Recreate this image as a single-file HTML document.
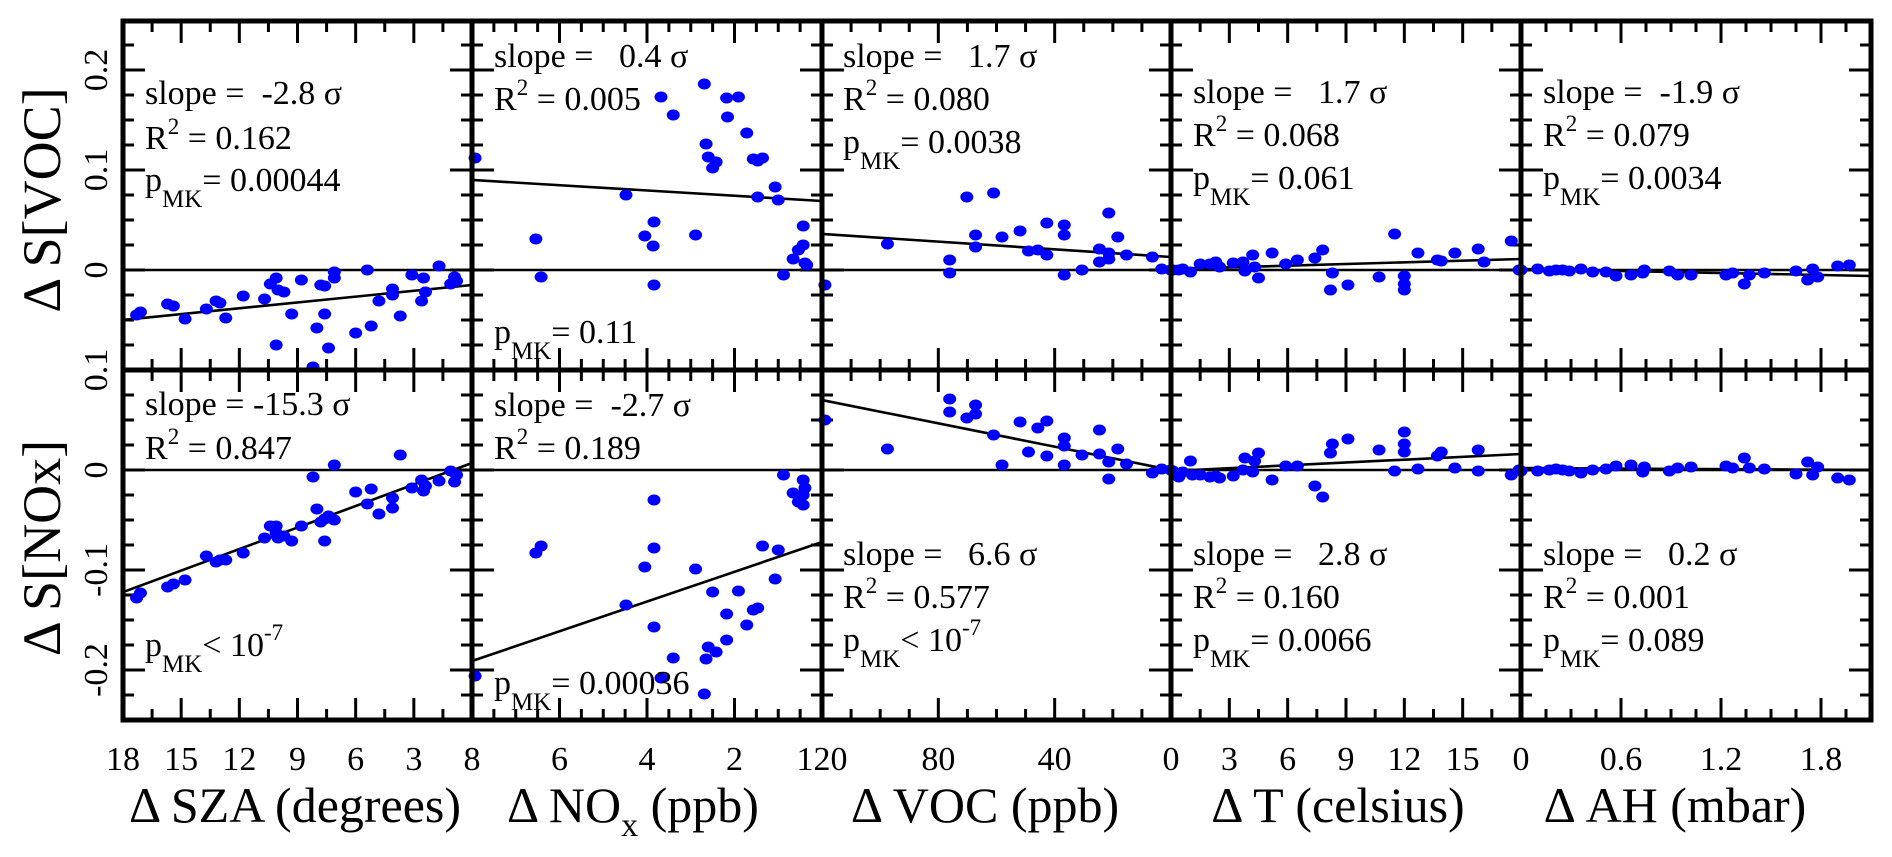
<!DOCTYPE html>
<html><head><meta charset="utf-8"><title>Sensitivity scatter panels</title>
<style>
html,body{margin:0;padding:0;background:#fff;}
body{position:relative;width:1892px;height:857px;overflow:hidden;}
svg{display:block;font-family:"Liberation Serif","DejaVu Serif",serif;}
svg text{font-family:"Liberation Serif","DejaVu Serif",serif;white-space:pre;}
</style></head>
<body>
<svg id="chart" width="1892" height="857" viewBox="0 0 1892 857" xmlns="http://www.w3.org/2000/svg"></svg>
<script>
// ---------- data ----------
const szaX = [17.3,17.1,15.7,15.4,14.8,13.7,13.2,13.0,12.7,11.8,10.7,10.4,10.1,10.0,9.7,9.3,10.1,8.8,7.8,7.6,7.6,8.0,7.4,8.2,7.1,7.1,6.0,5.4,5.2,4.8,4.1,4.1,3.7,3.1,2.6,2.5,2.4,1.7,1.1,0.9,0.8];
const szaVocY = [-0.045,-0.042,-0.034,-0.036,-0.049,-0.039,-0.031,-0.033,-0.048,-0.026,-0.029,-0.014,-0.008,-0.020,-0.022,-0.044,-0.075,-0.010,-0.015,-0.016,-0.044,-0.058,-0.078,-0.097,-0.002,-0.008,-0.063,0,-0.056,-0.031,-0.019,-0.025,-0.046,-0.005,-0.031,-0.008,-0.022,0.004,-0.014,-0.007,-0.011];
const szaNoxY = [-0.128,-0.123,-0.117,-0.114,-0.110,-0.086,-0.092,-0.090,-0.090,-0.083,-0.068,-0.056,-0.056,-0.068,-0.066,-0.071,-0.063,-0.056,-0.052,-0.071,-0.049,-0.039,-0.046,-0.007,0.005,-0.050,-0.022,-0.034,-0.019,-0.044,-0.038,-0.028,0.015,-0.018,-0.010,-0.021,-0.016,-0.011,-0.001,-0.012,-0.005];

const noxTopX = [7.93,6.54,6.42,4.48,4.05,3.84,3.86,3.84,3.68,3.40,2.89,2.69,2.65,2.60,2.50,2.42,2.18,2.16,1.91,1.72,1.57,1.47,1.36,1.47,1.07,1.00,0.88,0.66,0.54,0.43,0.43,0.39,0.35];
const noxTopY = [0.112,0.031,-0.007,0.075,0.034,0.048,0.024,-0.015,0.173,0.155,0.035,0.186,0.126,0.113,0.102,0.108,0.172,0.153,0.173,0.137,0.111,0.109,0.112,0.073,0.083,0.070,-0.005,0.011,0.020,0.044,0.025,0.007,0.005];
const noxBotX = [7.93,6.54,6.42,4.48,4.05,3.84,3.84,3.84,3.68,3.40,2.89,2.69,2.65,2.60,2.42,2.50,2.18,2.18,1.91,1.72,1.57,1.47,1.36,1.07,1.00,0.88,0.66,0.54,0.43,0.43,0.39,0.43];
const noxBotY = [-0.206,-0.083,-0.076,-0.135,-0.097,-0.030,-0.078,-0.157,-0.208,-0.188,-0.099,-0.224,-0.189,-0.177,-0.182,-0.122,-0.170,-0.144,-0.121,-0.155,-0.140,-0.138,-0.076,-0.109,-0.080,-0.005,-0.023,-0.032,-0.010,-0.035,-0.018,-0.025];

const vocTopX = [119,97.5,76.1,76.1,70.2,67.2,67.2,61.0,58.1,51.9,49.0,45.8,42.7,42.7,36.7,36.7,36.7,30.6,24.6,24.6,21.4,21.4,21.4,18.3,15.3,6.4,3.2,0.1];
const vocTopY = [-0.015,0.026,0.010,-0.003,0.073,0.035,0.023,0.077,0.033,0.039,0.019,0.020,0.047,0.015,0.045,0.035,-0.005,0.000,0.021,0.008,0.057,0.017,0.011,0.033,0.015,0.013,0.001,0.000];
const vocBotX = [119,97.5,76.1,76.1,70.2,67.2,67.2,61.0,58.1,51.9,49.0,45.8,42.7,42.7,36.7,36.7,36.7,30.6,24.6,24.6,21.4,21.4,18.3,15.3,6.4,3.2,0.1];
const vocBotY = [0.050,0.021,0.071,0.058,0.052,0.065,0.056,0.035,0.005,0.048,0.018,0.042,0.049,0.014,0.032,0.024,0.005,0.015,0.040,0.016,0.008,-0.009,0.021,0.006,-0.003,0.001,0.000];

const tTopX = [0.1,0.4,0.6,1.0,1.5,2.0,2.3,2.5,3.2,3.7,3.8,4.2,4.3,4.5,5.2,5.9,6.5,7.4,7.8,8.2,8.3,9.1,10.7,11.5,12.0,12.0,12.0,12.7,13.7,13.9,14.6,15.8,16.1,17.5,17.9];
const tTopY = [0,0,0.001,-0.002,0.006,0.006,0.008,0.003,0.007,0.008,-0.001,0.015,0.003,-0.008,0.017,0.006,0.010,0.012,0.020,-0.020,-0.003,-0.015,-0.007,0.036,-0.006,-0.014,-0.020,0.017,0.010,0.009,0.017,0.021,0.008,0.029,0];
const tBotX = [0.1,0.4,0.6,1.0,1.1,1.5,2.0,2.3,2.5,3.2,3.7,3.8,4.2,4.3,4.5,5.2,5.9,6.5,7.4,7.8,8.2,8.3,9.1,10.7,11.5,12.0,12.0,12.0,12.7,13.7,13.9,14.6,15.8,15.8,17.5,17.9];
const tBotY = [-0.001,-0.007,-0.002,0.009,-0.005,-0.005,-0.007,-0.006,-0.008,-0.006,0,0.012,-0.002,0.009,0.017,-0.010,0.004,0.004,-0.016,-0.027,0.017,0.026,0.031,0.020,-0.001,0.038,0.026,0.018,0.001,0.014,0.018,0.002,0.020,-0.001,-0.005,0];

const ahX = [0,0.10,0.17,0.21,0.25,0.29,0.36,0.43,0.51,0.57,0.66,0.73,0.74,0.89,0.94,1.02,1.23,1.27,1.34,1.37,1.46,1.65,1.72,1.75,1.78,1.90,1.97];
const ahTopY = [0,0.001,-0.001,0,0,-0.001,0.001,-0.002,-0.002,-0.006,-0.005,-0.003,0,-0.001,-0.005,-0.005,-0.005,-0.003,-0.014,-0.005,-0.003,-0.001,-0.010,0.001,-0.007,0.004,0.005];
const ahBotY = [-0.001,-0.001,0,0.001,0,-0.001,-0.003,0,0.001,0.004,0.005,-0.002,0.003,-0.001,0.002,0.003,0.004,0.002,0.012,0.002,0.001,-0.004,0.008,-0.005,0.003,-0.008,-0.010];

// fit lines: [intercept, slope]
const szaVocFit = [-0.015,-0.00194];
const szaNoxFit = [0.007,-0.00717];
const noxVocFit = [0.069,0.00263];
const noxNoxFit = [-0.072,-0.01488];
const vocVocFit = [0.013,0.000192];
const vocNoxFit = [0.000,0.000583];
const tVocFit = [0.001,0.000556];
const tNoxFit = [-0.001,0.000944];
const ahVocFit = [0.001,-0.00333];
const ahNoxFit = [0.002,-0.00095];

const yTickLabels = ["0.2","0.1","0","0.1","0","-0.1","-0.2"];
const yTickValuesRow = [[0.2,0],[0.1,0],[0,0],[-0.1,0],[0,1],[-0.1,1],[-0.2,1]];

// ---------- layout ----------
const svg = document.getElementById('chart');
const NS = 'http://www.w3.org/2000/svg';
const cols = [
  {name:'sza', px:[123,472], dom:[18,0], major:3, minor:1.5, labels:["18","15","12","9","6","3"], ticks:[18,15,12,9,6,3], xs:[szaX,szaX], ys:[szaVocY,szaNoxY], fits:[szaVocFit,szaNoxFit]},
  {name:'nox', px:[472,822], dom:[8,0], major:2, minor:0.5, labels:["8","6","4","2"], ticks:[8,6,4,2], xs:[noxTopX,noxBotX], ys:[noxTopY,noxBotY], fits:[noxVocFit,noxNoxFit]},
  {name:'voc', px:[822,1171], dom:[120,0], major:40, minor:10, labels:["120","80","40"], ticks:[120,80,40], xs:[vocTopX,vocBotX], ys:[vocTopY,vocBotY], fits:[vocVocFit,vocNoxFit]},
  {name:'temp', px:[1171,1521], dom:[0,18], major:3, minor:1.5, labels:["0","3","6","9","12","15"], ticks:[0,3,6,9,12,15], xs:[tTopX,tBotX], ys:[tTopY,tBotY], fits:[tVocFit,tNoxFit]},
  {name:'ah', px:[1521,1871], dom:[0,2.1], major:0.6, minor:0.15, labels:["0","0.6","1.2","1.8"], ticks:[0,0.6,1.2,1.8], xs:[ahX,ahX], ys:[ahTopY,ahBotY], fits:[ahVocFit,ahNoxFit]}
];
const rows = [{py:[21,370], dom:[0.249,-0.1]},{py:[370,720], dom:[0.1,-0.25]}];

function mk(tag, attrs, parent){ const e=document.createElementNS(NS,tag); for(const k in attrs) e.setAttribute(k,attrs[k]); (parent||svg).appendChild(e); return e; }
function xScale(c,v){ return c.px[0]+(v-c.dom[0])/(c.dom[1]-c.dom[0])*(c.px[1]-c.px[0]); }
function yScale(r,v){ return r.py[0]+(v-r.dom[0])/(r.dom[1]-r.dom[0])*(r.py[1]-r.py[0]); }

cols.forEach((c,ci)=>{
  rows.forEach((r,ri)=>{
    const g = mk('g',{});
    
    
    const lo=Math.min(c.dom[0],c.dom[1]), hi=Math.max(c.dom[0],c.dom[1]);
    for(let k=0;;k++){
      const v=lo+k*c.minor; if(v>hi+1e-9) break;
      const isMaj=Math.abs(v/c.major-Math.round(v/c.major))<1e-6;
      const L=isMaj?22:11, x=xScale(c,v);
      mk('line',{x1:x,x2:x,y1:r.py[0],y2:r.py[0]+L,stroke:'#000','stroke-width':3},g);
      mk('line',{x1:x,x2:x,y1:r.py[1],y2:r.py[1]-L,stroke:'#000','stroke-width':3},g);
    }
    for(let k=0;;k++){
      const v=r.dom[1]+k*0.025; if(v>r.dom[0]+1e-9) break;
      const isMaj=Math.abs(v/0.1-Math.round(v/0.1))<1e-6;
      const L=isMaj?22:11, y=yScale(r,v);
      mk('line',{x1:c.px[0],x2:c.px[0]+L,y1:y,y2:y,stroke:'#000','stroke-width':3},g);
      mk('line',{x1:c.px[1],x2:c.px[1]-L,y1:y,y2:y,stroke:'#000','stroke-width':3},g);
    }
    const y0=yScale(r,0);
    const zl=mk('line',{x1:c.px[0],x2:c.px[1],y1:y0,y2:y0,stroke:'#000','stroke-width':2.4},g);
    
    
    const f=c.fits[ri];
    const fl=mk('line',{x1:xScale(c,c.dom[0]),x2:xScale(c,c.dom[1]),y1:yScale(r,f[0]+f[1]*c.dom[0]),y2:yScale(r,f[0]+f[1]*c.dom[1]),stroke:'#000','stroke-width':2.6},g);
    
    
    const xs=c.xs[ri], ys=c.ys[ri];
    for(let i=0;i<ys.length;i++){
      const d=mk('ellipse',{cx:xScale(c,xs[i]),cy:yScale(r,ys[i]),rx:6.5,ry:5.5,fill:'#0000ff'},g);
      
      
    }
  });
  c.ticks.forEach((v,i)=>{
    const t=mk('text',{x:xScale(c,v),y:770,'font-size':34,'text-anchor':'middle'});
    t.textContent=c.labels[i];
    
    
  });
});
rows.forEach(r=>cols.forEach(c=>{
  const fr=mk('rect',{x:c.px[0],y:r.py[0],width:c.px[1]-c.px[0],height:r.py[1]-r.py[0],fill:'none',stroke:'#000','stroke-width':5});
  
  
}));
yTickValuesRow.forEach((p,i)=>{
  const y=yScale(rows[p[1]],p[0]);
  const t=mk('text',{x:0,y:0,'font-size':34,'text-anchor':'middle',transform:'translate(107,'+y+') rotate(-90)'});
  t.textContent=yTickLabels[i];
  
  
});
</script>
<svg width="1892" height="857" style="position:absolute;left:0;top:0" xmlns="http://www.w3.org/2000/svg">
  <text transform="translate(60,200) rotate(-90)" font-size="54" text-anchor="middle">Δ S[VOC]</text>
  <text transform="translate(60,548) rotate(-90)" font-size="54" text-anchor="middle">Δ S[NOx]</text>

  <text x="295" y="822" font-size="50" text-anchor="middle">Δ SZA (degrees)</text>
  <text x="633" y="822" font-size="50" text-anchor="middle">Δ NO<tspan font-size="34" dy="14">x</tspan><tspan dy="-14"> (ppb)</tspan></text>
  <text x="985" y="822" font-size="50" text-anchor="middle">Δ VOC (ppb)</text>
  <text x="1338" y="822" font-size="50" text-anchor="middle">Δ T (celsius)</text>
  <text x="1675" y="822" font-size="50" text-anchor="middle">Δ AH (mbar)</text>

  <g font-size="34">
    <g>
      <text x="145" y="104">slope =  -2.8 σ</text>
      <text x="145" y="149">R<tspan font-size="23" dy="-15">2</tspan><tspan dy="15"> = 0.162</tspan></text>
      <text x="145" y="191">p<tspan font-size="25" dy="16">MK</tspan><tspan dy="-16">= 0.00044</tspan></text>
    </g>
    <g>
      <text x="145" y="415">slope = -15.3 σ</text>
      <text x="145" y="459">R<tspan font-size="23" dy="-15">2</tspan><tspan dy="15"> = 0.847</tspan></text>
      <text x="145" y="656">p<tspan font-size="25" dy="16">MK</tspan><tspan dy="-16">&lt; 10</tspan><tspan font-size="23" dy="-16">-7</tspan></text>
    </g>
    <g>
      <text x="494" y="67">slope =   0.4 σ</text>
      <text x="494" y="110">R<tspan font-size="23" dy="-15">2</tspan><tspan dy="15"> = 0.005</tspan></text>
      <text x="494" y="343">p<tspan font-size="25" dy="16">MK</tspan><tspan dy="-16">= 0.11</tspan></text>
    </g>
    <g>
      <text x="494" y="416">slope =  -2.7 σ</text>
      <text x="494" y="459">R<tspan font-size="23" dy="-15">2</tspan><tspan dy="15"> = 0.189</tspan></text>
      <text x="494" y="694">p<tspan font-size="25" dy="16">MK</tspan><tspan dy="-16">= 0.00036</tspan></text>
    </g>
    <g>
      <text x="843" y="67">slope =   1.7 σ</text>
      <text x="843" y="110">R<tspan font-size="23" dy="-15">2</tspan><tspan dy="15"> = 0.080</tspan></text>
      <text x="843" y="153">p<tspan font-size="25" dy="16">MK</tspan><tspan dy="-16">= 0.0038</tspan></text>
    </g>
    <g>
      <text x="843" y="565">slope =   6.6 σ</text>
      <text x="843" y="608">R<tspan font-size="23" dy="-15">2</tspan><tspan dy="15"> = 0.577</tspan></text>
      <text x="843" y="651">p<tspan font-size="25" dy="16">MK</tspan><tspan dy="-16">&lt; 10</tspan><tspan font-size="23" dy="-16">-7</tspan></text>
    </g>
    <g>
      <text x="1193" y="103">slope =   1.7 σ</text>
      <text x="1193" y="146">R<tspan font-size="23" dy="-15">2</tspan><tspan dy="15"> = 0.068</tspan></text>
      <text x="1193" y="189">p<tspan font-size="25" dy="16">MK</tspan><tspan dy="-16">= 0.061</tspan></text>
    </g>
    <g>
      <text x="1193" y="565">slope =   2.8 σ</text>
      <text x="1193" y="608">R<tspan font-size="23" dy="-15">2</tspan><tspan dy="15"> = 0.160</tspan></text>
      <text x="1193" y="651">p<tspan font-size="25" dy="16">MK</tspan><tspan dy="-16">= 0.0066</tspan></text>
    </g>
    <g>
      <text x="1543" y="103">slope =  -1.9 σ</text>
      <text x="1543" y="146">R<tspan font-size="23" dy="-15">2</tspan><tspan dy="15"> = 0.079</tspan></text>
      <text x="1543" y="189">p<tspan font-size="25" dy="16">MK</tspan><tspan dy="-16">= 0.0034</tspan></text>
    </g>
    <g>
      <text x="1543" y="565">slope =   0.2 σ</text>
      <text x="1543" y="608">R<tspan font-size="23" dy="-15">2</tspan><tspan dy="15"> = 0.001</tspan></text>
      <text x="1543" y="651">p<tspan font-size="25" dy="16">MK</tspan><tspan dy="-16">= 0.089</tspan></text>
    </g>
  </g>
</svg>
</body></html>
